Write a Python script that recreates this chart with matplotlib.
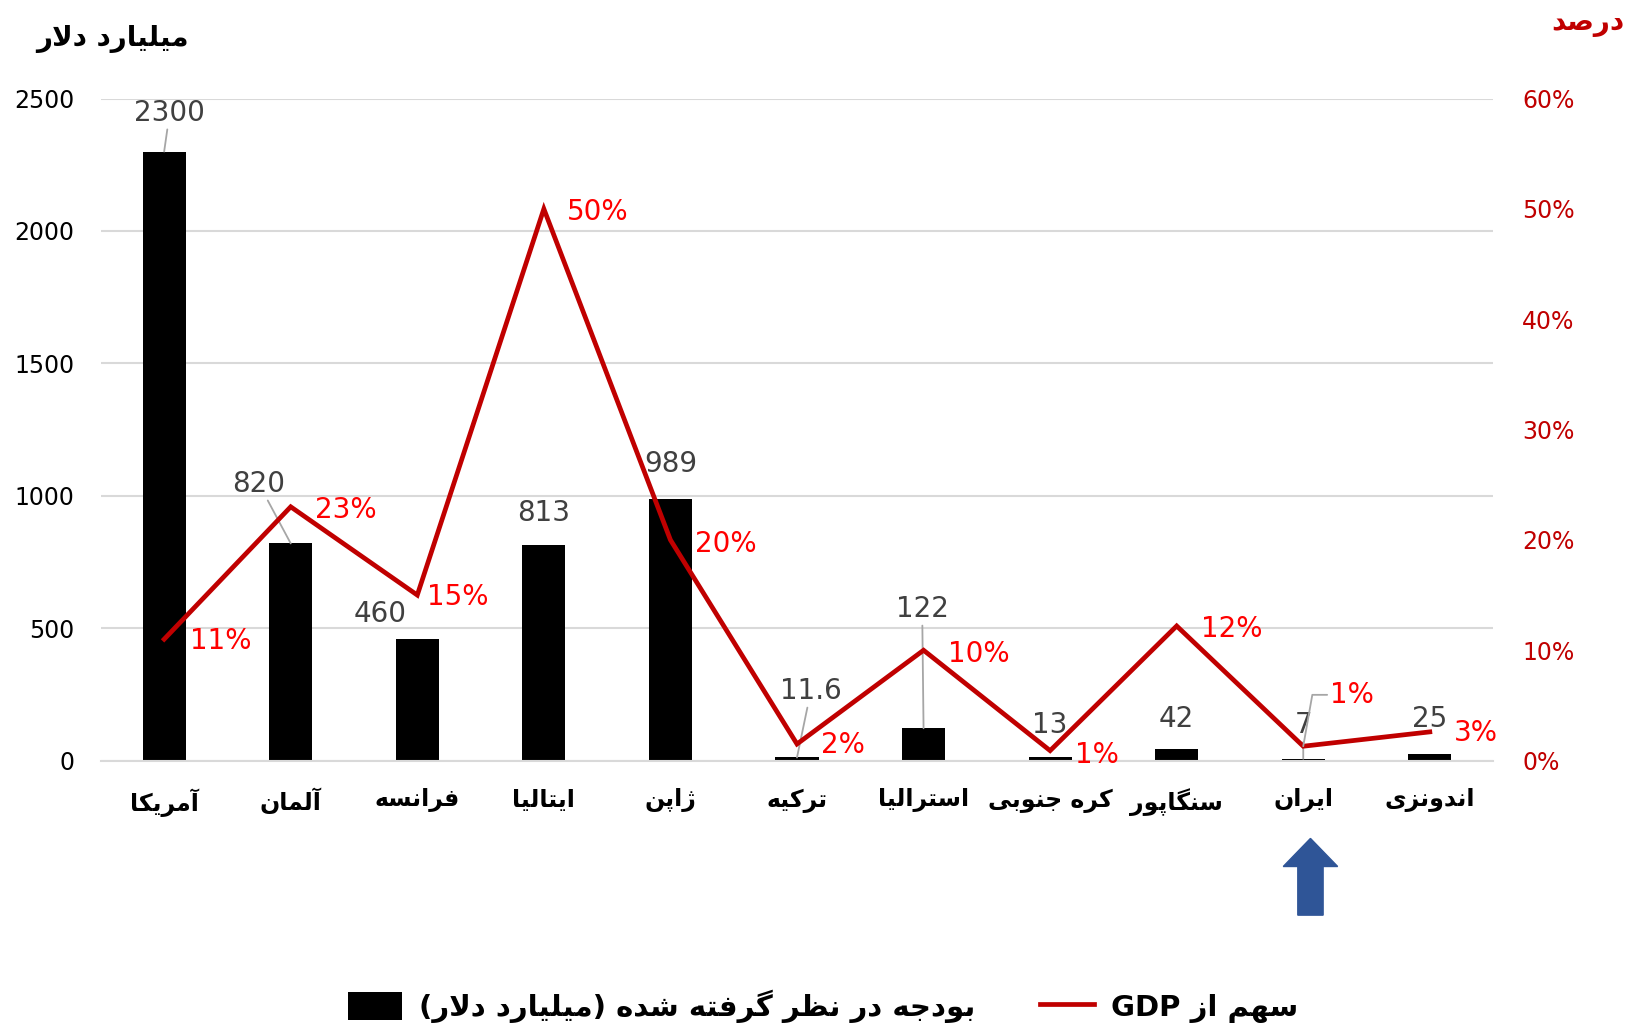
import re
import matplotlib
matplotlib.use("Agg")
from matplotlib import pyplot as plt
from matplotlib.patches import Polygon, Rectangle
from matplotlib.lines import Line2D
from matplotlib.transforms import blended_transform_factory
from matplotlib.ticker import FuncFormatter

plt.rcParams['font.family'] = ['DejaVu Sans']

# Chart data
countries = ["آمریکا", "آلمان", "فرانسه", "ایتالیا", "ژاپن", "ترکیه",
             "استرالیا", "کره جنوبی", "سنگاپور", "ایران", "اندونزی"]
budget = [2300, 820, 460, 813, 989, 11.6, 122, 13, 42, 7, 25]
gdp_share = [0.11, 0.23, 0.15, 0.50, 0.20, 0.015, 0.10, 0.009, 0.122, 0.013, 0.026]
gdp_labels = ["11%", "23%", "15%", "50%", "20%", "2%", "10%", "1%", "12%", "1%", "3%"]
left_ticks = [0, 500, 1000, 1500, 2000, 2500]
right_ticks = [0, 0.1, 0.2, 0.3, 0.4, 0.5, 0.6]

# label placement (offset points) and which labels have leader lines
bar_offsets = [(4, 28), (-23, 43), (-27, 18), (0, 23), (0, 25), (10, 48),
               (-1, 86), (0, 23), (0, 22), (0, 24), (0, 25)]
bar_leader = [True, True, False, False, False, True, True, False, False, True, False]
pct_offsets = [(41, -1.5), (40, -2), (29, -1.5), (39, -2), (40, -3), (33, -1),
               (40, -3), (34, -3), (40, -2), (35, 37), (33, -1)]

# --- minimal Persian shaping (matplotlib has no text shaping) ---
_F = {
    'آ': ('\uFE81', '\uFE82', None, None),
    'ا': ('\uFE8D', '\uFE8E', None, None),
    'ب': ('\uFE8F', '\uFE90', '\uFE91', '\uFE92'),
    'پ': ('\uFB56', '\uFB57', '\uFB58', '\uFB59'),
    'ت': ('\uFE95', '\uFE96', '\uFE97', '\uFE98'),
    'ج': ('\uFE9D', '\uFE9E', '\uFE9F', '\uFEA0'),
    'د': ('\uFEA9', '\uFEAA', None, None),
    'ر': ('\uFEAD', '\uFEAE', None, None),
    'ز': ('\uFEAF', '\uFEB0', None, None),
    'ژ': ('\uFB8A', '\uFB8B', None, None),
    'س': ('\uFEB1', '\uFEB2', '\uFEB3', '\uFEB4'),
    'ش': ('\uFEB5', '\uFEB6', '\uFEB7', '\uFEB8'),
    'ص': ('\uFEB9', '\uFEBA', '\uFEBB', '\uFEBC'),
    'ظ': ('\uFEC5', '\uFEC6', '\uFEC7', '\uFEC8'),
    'ف': ('\uFED1', '\uFED2', '\uFED3', '\uFED4'),
    'ک': ('\uFB8E', '\uFB8F', '\uFB90', '\uFB91'),
    'گ': ('\uFB92', '\uFB93', '\uFB94', '\uFB95'),
    'ل': ('\uFEDD', '\uFEDE', '\uFEDF', '\uFEE0'),
    'م': ('\uFEE1', '\uFEE2', '\uFEE3', '\uFEE4'),
    'ن': ('\uFEE5', '\uFEE6', '\uFEE7', '\uFEE8'),
    'و': ('\uFEED', '\uFEEE', None, None),
    'ه': ('\uFEE9', '\uFEEA', '\uFEEB', '\uFEEC'),
    'ی': ('\uFBFC', '\uFBFD', '\uFBFE', '\uFBFF'),
}
_LIG = {'ا': ('\uFEFB', '\uFEFC'), 'آ': ('\uFEF5', '\uFEF6')}


def fa(text):
    def joins_left(c):
        return c in _F and _F[c][2] is not None
    out, prev, i, n = [], None, 0, len(text)
    while i < n:
        c = text[i]
        if c not in _F:
            out.append(c)
            prev = None
            i += 1
            continue
        link_prev = prev is not None and joins_left(prev)
        if c == 'ل' and i + 1 < n and text[i + 1] in _LIG:
            lig = _LIG[text[i + 1]]
            out.append(lig[1] if link_prev else lig[0])
            prev = 'ا'
            i += 2
            continue
        nxt = text[i + 1] if i + 1 < n else None
        link_next = joins_left(c) and nxt in _F
        iso, fin, ini, med = _F[c]
        if link_prev and link_next:
            g = med
        elif link_prev:
            g = fin
        elif link_next:
            g = ini
        else:
            g = iso
        out.append(g)
        prev = c
        i += 1
    runs = re.findall(r'[A-Za-z0-9%.]+|[^A-Za-z0-9%.]+', ''.join(out))
    mirror = {'(': ')', ')': '('}
    vis = []
    for r in reversed(runs):
        if re.match(r'[A-Za-z0-9%.]', r):
            vis.append(r)
        else:
            vis.append(''.join(mirror.get(ch, ch) for ch in reversed(r)))
    return ''.join(vis)


x = list(range(len(countries)))

fig = plt.figure(figsize=(16.27, 10.31), dpi=100)
ax = fig.add_axes([0.062, 0.2623, 0.8557, 0.6421])
ax2 = ax.twinx()

# bars
ax.bar(x, budget, width=0.34, color='black', zorder=2)
ax.set_xlim(-0.5, 10.5)
ax.set_ylim(0, 2500)
ax.set_yticks(left_ticks)
ax.grid(axis='y', color='#D9D9D9', lw=1.5, zorder=0)
ax.set_axisbelow(True)
ax.set_xticks(x)
ax.set_xticklabels([fa(c) for c in countries], fontsize=17, fontweight='bold')
ax.tick_params(axis='x', length=0, pad=20)
ax.tick_params(axis='y', length=0, pad=19, labelsize=17)
for s in ['top', 'right', 'left']:
    ax.spines[s].set_visible(False)
ax.spines['bottom'].set_color('#D9D9D9')
ax.spines['bottom'].set_linewidth(1.5)

for i, v in enumerate(budget):
    dx, dy = bar_offsets[i]
    ap = None
    if bar_leader[i]:
        ap = dict(arrowstyle='-', color='#A6A6A6', lw=1.3, shrinkA=0, shrinkB=0)
    ax.annotate(f"{v:g}", xy=(i, v), xytext=(dx, dy), textcoords='offset points',
                ha='center', va='center', fontsize=20, color='#404040',
                arrowprops=ap, zorder=3)

# GDP share line
ax2.plot(x, gdp_share, color='#C00000', lw=3.4, solid_joinstyle='miter', zorder=4)
ax2.set_ylim(0, 0.6)
ax2.set_yticks(right_ticks)
ax2.yaxis.set_major_formatter(FuncFormatter(lambda v, p: f"{v * 100:.0f}%"))
ax2.tick_params(axis='y', length=0, pad=21, labelsize=17, labelcolor='#C00000')
for s in ax2.spines.values():
    s.set_visible(False)

for i, v in enumerate(gdp_share):
    dx, dy = pct_offsets[i]
    ap = None
    if i == 9:
        ap = dict(arrowstyle='-', color='#A6A6A6', lw=1.3, shrinkA=0, shrinkB=0,
                  connectionstyle='angle,angleA=0,angleB=80,rad=0')
    ax2.annotate(gdp_labels[i], xy=(i, v), xytext=(dx, dy), textcoords='offset points',
                 ha='center', va='center', fontsize=20, color='#FF0000',
                 arrowprops=ap, zorder=5)

# axis titles
fig.text(0.069, 0.962, fa("میلیارد دلار"), ha='center', va='center',
         fontsize=20, fontweight='bold')
fig.text(0.976, 0.978, fa("درصد"), ha='center', va='center',
         fontsize=20, fontweight='bold', color='#C00000')

# blue arrow under Iran
tr = blended_transform_factory(ax.transData, ax.transAxes)
cx = 9.057
arrow_pts = [(cx, -0.1176), (cx + 0.215, -0.160), (cx + 0.10, -0.160),
             (cx + 0.10, -0.2335), (cx - 0.10, -0.2335), (cx - 0.10, -0.160),
             (cx - 0.215, -0.160)]
ax.add_patch(Polygon(arrow_pts, closed=True, transform=tr, clip_on=False,
                     facecolor='#2F5597', edgecolor='#2F5597'))

# legend
handles = [Rectangle((0, 0), 1, 1, facecolor='black'),
           Line2D([], [], color='#C00000', lw=3.4)]
labels = [fa("بودجه در نظر گرفته شده (میلیارد دلار)"), fa("سهم از GDP")]
fig.legend(handles, labels, loc='center', bbox_to_anchor=(0.506, 0.024), ncol=2,
           frameon=False, prop={'size': 21, 'weight': 'bold'},
           handlelength=1.85, handleheight=1.05, handletextpad=0.6,
           columnspacing=2.2)

fig.savefig("out.png", dpi=100)
